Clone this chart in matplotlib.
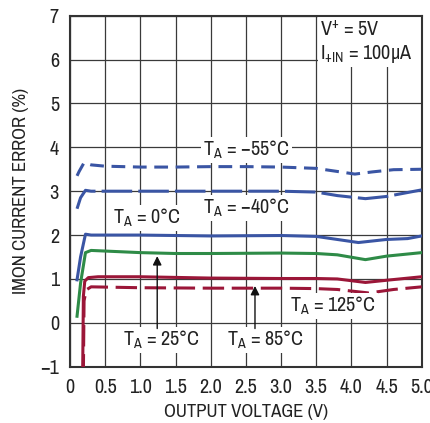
import matplotlib
matplotlib.use("Agg")
import matplotlib.pyplot as plt
from matplotlib import font_manager
from matplotlib.patches import Rectangle

# prefer a narrow sans if one is installed
narrow = sorted({f.name for f in font_manager.fontManager.ttflist
                 if "Narrow" in f.name or "Condensed" in f.name})
cond = sorted({f.name for f in font_manager.fontManager.ttflist
               if f.stretch in ("condensed", "semi-condensed", 600, 500)})
if narrow:
    FONT = narrow[0]
    STRETCH = "normal"
elif cond:
    FONT = cond[0]
    STRETCH = "condensed"
else:
    FONT = "Liberation Sans"
    STRETCH = "normal"

plt.rcParams["font.family"] = [FONT, "DejaVu Sans"]
plt.rcParams["font.stretch"] = STRETCH
plt.rcParams["mathtext.fontset"] = "custom"
plt.rcParams["mathtext.rm"] = f"{FONT}:stretch={STRETCH}"
plt.rcParams["mathtext.it"] = f"{FONT}:stretch={STRETCH}"

# output voltage (V) vs IMON current error (%) for each temperature
x_m55 = [0.10, 0.13, 0.20, 0.30, 0.50, 1.0, 1.5, 2.0, 2.5, 3.0, 3.5, 3.8, 4.05, 4.3, 4.6, 5.0]
y_m55 = [3.35, 3.45, 3.65, 3.60, 3.57, 3.55, 3.55, 3.56, 3.56, 3.55, 3.52, 3.45, 3.39, 3.44, 3.49, 3.50]

x_m40 = [0.10, 0.15, 0.22, 0.30, 1.0, 2.0, 3.0, 3.5, 3.8, 4.2, 4.5, 5.0]
y_m40 = [2.60, 2.85, 3.02, 3.00, 3.00, 3.00, 3.00, 2.98, 2.90, 2.83, 2.88, 3.03]

x_0 = [0.10, 0.15, 0.22, 0.30, 1.0, 2.0, 3.0, 3.5, 3.8, 4.1, 4.5, 4.8, 5.0]
y_0 = [0.98, 1.50, 2.02, 2.00, 2.00, 1.98, 1.99, 1.97, 1.90, 1.83, 1.90, 1.92, 1.98]

x_25 = [0.10, 0.15, 0.22, 0.30, 1.0, 1.5, 2.0, 3.0, 3.5, 3.8, 4.2, 4.5, 5.0]
y_25 = [0.15, 0.90, 1.60, 1.65, 1.60, 1.58, 1.58, 1.59, 1.58, 1.55, 1.44, 1.52, 1.60]

x_125 = [0.18, 0.19, 0.21, 0.26, 0.40, 1.0, 2.0, 3.0, 3.5, 3.8, 4.2, 4.5, 5.0]
y_125 = [-1.2, 0.60, 0.95, 1.03, 1.05, 1.05, 1.02, 1.01, 1.01, 1.00, 0.92, 0.97, 1.05]

x_85 = [0.19, 0.20, 0.23, 0.30, 1.0, 2.0, 3.0, 3.5, 3.8, 4.25, 4.6, 5.0]
y_85 = [-1.2, 0.50, 0.75, 0.82, 0.80, 0.79, 0.79, 0.78, 0.76, 0.68, 0.76, 0.82]

x_ticks = [0, 0.5, 1.0, 1.5, 2.0, 2.5, 3.0, 3.5, 4.0, 4.5, 5.0]
x_ticklabels = ["0", "0.5", "1.0", "1.5", "2.0", "2.5", "3.0", "3.5", "4.0", "4.5", "5.0"]
y_ticks = [-1, 0, 1, 2, 3, 4, 5, 6, 7]
y_ticklabels = ["\u22121", "0", "1", "2", "3", "4", "5", "6", "7"]

BLUE = "#3a55a4"
GREEN = "#2e8b47"
RED = "#9b1638"
INK = "#222222"

big = STRETCH == "condensed" or bool(narrow)
TS = 14.5 if big else 12.5
LS = 13.5 if big else 12

fig = plt.figure(figsize=(4.31, 4.23), dpi=100)
ax = fig.add_axes([0.1624, 0.1331, 0.816, 0.8298])

ax.plot(x_m55, y_m55, color=BLUE, lw=2.2, dashes=(4.5, 2.5), zorder=3)
ax.plot(x_m40, y_m40, color=BLUE, lw=2.2, dashes=(10, 2), zorder=3)
ax.plot(x_0, y_0, color=BLUE, lw=2.2, zorder=3)
ax.plot(x_25, y_25, color=GREEN, lw=2.2, zorder=3)
ax.plot(x_125, y_125, color=RED, lw=2.2, zorder=3)
ax.plot(x_85, y_85, color=RED, lw=2.2, dashes=(7, 2.5), zorder=3)

ax.set_xlim(0, 5)
ax.set_ylim(-1, 7)
ax.set_xticks(x_ticks)
ax.set_xticklabels(x_ticklabels)
ax.set_yticks(y_ticks)
ax.set_yticklabels(y_ticklabels)
ax.tick_params(length=0, labelsize=TS, colors=INK, pad=8)
ax.grid(True, color="#3a3a3a", lw=0.9, zorder=0.5)
ax.set_axisbelow(True)
for s in ax.spines.values():
    s.set_color("#333333")
    s.set_linewidth(1.5)

ax.set_xlabel("OUTPUT VOLTAGE (V)", fontsize=LS, color=INK, labelpad=5)
ax.set_ylabel("IMON CURRENT ERROR (%)", fontsize=LS, color=INK, labelpad=8)

# condition box, top right
ax.add_patch(Rectangle((3.52, 5.83), 1.47, 1.16, facecolor="white", edgecolor="none", zorder=1.5))
ax.text(3.56, 6.68, "V$^{+}$ = 5V", fontsize=TS, color=INK, va="center", ha="left", zorder=4)
ax.text(3.56, 6.12, "I$_{\\mathrm{+IN}}$ = 100\u00b5A", fontsize=TS, color=INK,
        va="center", ha="left", zorder=4)

box = dict(facecolor="white", edgecolor="none", pad=1.5)
label_kw = dict(fontsize=TS, color=INK, va="center", ha="left", zorder=4, bbox=box)
ax.text(1.89, 3.94, "T$_{\\mathrm{A}}$ = \u221255\u00b0C", **label_kw)
ax.text(1.89, 2.62, "T$_{\\mathrm{A}}$ = \u221240\u00b0C", **label_kw)
ax.text(0.61, 2.39, "T$_{\\mathrm{A}}$ = 0\u00b0C", **label_kw)
ax.text(0.75, -0.39, "T$_{\\mathrm{A}}$ = 25\u00b0C", **label_kw)
ax.text(2.23, -0.39, "T$_{\\mathrm{A}}$ = 85\u00b0C", **label_kw)
ax.text(3.13, 0.38, "T$_{\\mathrm{A}}$ = 125\u00b0C", **label_kw)

arrow = dict(arrowstyle="-|>", color="#111111", lw=1.0, mutation_scale=13, shrinkA=0, shrinkB=0)
ax.annotate("", xy=(1.24, 1.52), xytext=(1.24, -0.13), arrowprops=arrow, zorder=4)
ax.annotate("", xy=(2.63, 0.84), xytext=(2.63, -0.13), arrowprops=arrow, zorder=4)

fig.savefig("out.png", dpi=100)
